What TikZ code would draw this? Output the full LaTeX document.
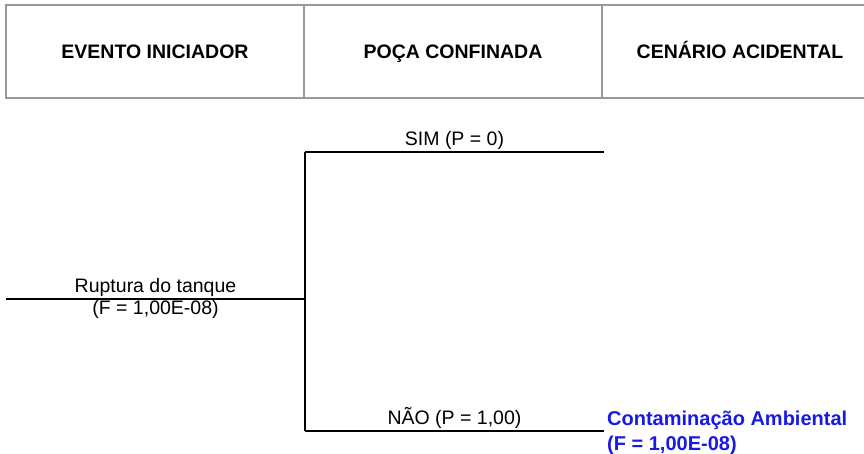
\documentclass[tikz,border=0pt]{standalone}
\usepackage{fontspec}
\setmainfont{Liberation Sans}
\usetikzlibrary{positioning,calc}
\definecolor{edgegray}{RGB}{153,153,153}
\definecolor{scenblue}{RGB}{25,25,230}

\begin{document}
\begin{tikzpicture}[x=1pt, y=-1pt, >=latex,
    headcell/.style={draw=edgegray, line width=2pt, minimum width=298pt, minimum height=93pt,
      inner sep=0pt, outer sep=0pt, text height=14pt, text depth=0pt, font=\fontsize{19.5}{23}\selectfont\bfseries},
    branch/.style={line width=2pt},
    lbl/.style={font=\fontsize{19.5}{23}\selectfont, inner sep=2pt},
    scen/.style={font=\fontsize{20}{25}\selectfont\bfseries, text=scenblue, align=left, inner sep=0pt}]
    \useasboundingbox (0,0) rectangle (864,454);
    \clip (0,0) rectangle (864,454);

    % header row
    \node[headcell] (h1) at (155,51.5) {EVENTO INICIADOR};
    \node[headcell, right=0pt of h1] (h2) {POÇA CONFINADA};
    \node[headcell, right=0pt of h2, minimum width=276pt] (h3) {CENÁRIO ACIDENTAL};

    % event tree
    \coordinate (start) at (6,299);
    \coordinate (fork) at (305,299);
    \coordinate (simfork) at (305,152);
    \coordinate (naofork) at (305,431);
    \coordinate (simend) at (604,152);
    \coordinate (naoend) at (604,431);

    \draw[branch] (start) -- (fork);
    \draw[branch] (simfork) -- (naofork);
    \draw[branch] (simfork) -- (simend);
    \draw[branch] (naofork) -- (naoend);

    \node[lbl, above] (rup) at ($(start)!0.5!(fork)$) {Ruptura do tanque};
    \node[lbl, below, inner sep=1pt] (rupf) at ($(start)!0.5!(fork)$) {(F = 1,00E-08)};
    \node[lbl, above] (sim) at ($(simfork)!0.5!(simend)$) {SIM (P = 0)};
    \node[lbl, above] (nao) at ($(naofork)!0.5!(naoend)$) {NÃO (P = 1,00)};

    \node[scen, anchor=north west] (cont) at ($(naoend)+(3,-20)$) {Contaminação Ambiental\\(F = 1,00E-08)};
\end{tikzpicture}
\end{document}
